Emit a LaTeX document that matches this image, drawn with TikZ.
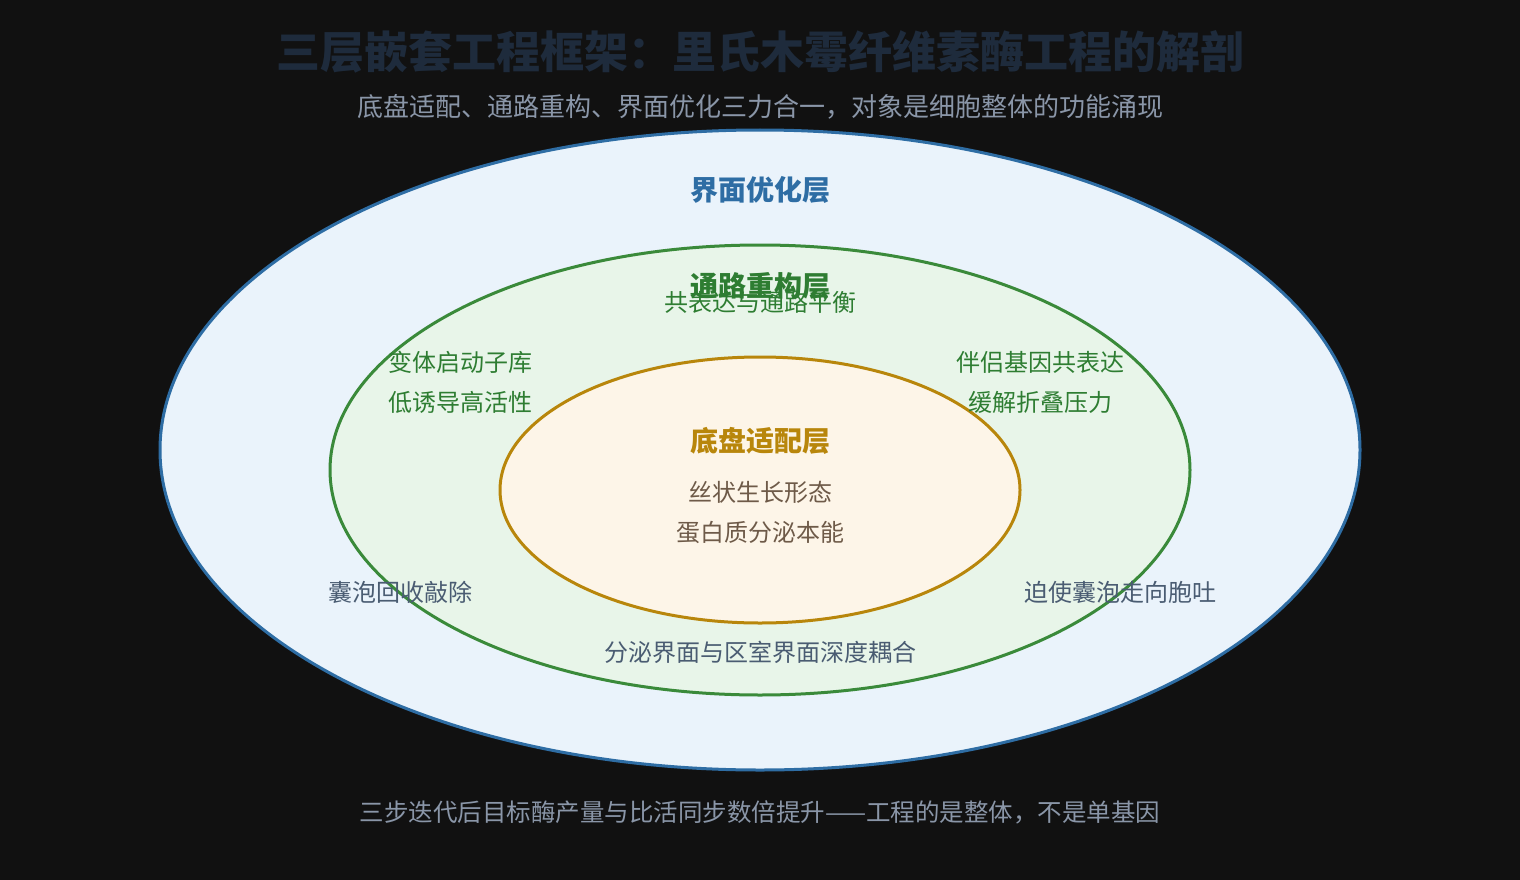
\documentclass[tikz,border=0pt]{standalone}
\usepackage{fontspec}
\usetikzlibrary{shapes.geometric}
\setmainfont{Noto Sans CJK SC}
\definecolor{bg}{HTML}{111111}
\definecolor{ttl}{HTML}{1E2B3C}
\definecolor{sub}{HTML}{8A96A8}
\definecolor{ofill}{HTML}{EAF3FB}\definecolor{oline}{HTML}{2E6DA4}
\definecolor{mfill}{HTML}{E8F5E9}\definecolor{mline}{HTML}{3A8A3A}
\definecolor{ifill}{HTML}{FDF5E8}\definecolor{iline}{HTML}{B8860B}
\definecolor{otxt}{HTML}{4A5C72}\definecolor{mtxt}{HTML}{2E7D32}\definecolor{itxt}{HTML}{6E5A48}
\begin{document}
\begin{tikzpicture}[x=1pt,y=-1pt,
  lbl/.style={font=\fontsize{24}{26}\selectfont,inner sep=0pt},
  head/.style={font=\fontsize{28}{30}\selectfont\bfseries,inner sep=0pt},
  ring/.style={ellipse,line width=3pt,inner sep=0pt}]
\fill[bg] (0,0) rectangle (1520,880);
\useasboundingbox (0,0) rectangle (1520,880);
\node[font=\fontsize{44}{48}\selectfont\bfseries,text=ttl] (title) at (760,52) {三层嵌套工程框架：里氏木霉纤维素酶工程的解剖};
\node[lbl,font=\fontsize{26}{28}\selectfont,text=sub] (subt) at (760,107) {底盘适配、通路重构、界面优化三力合一，对象是细胞整体的功能涌现};
\node[ring,draw=oline,fill=ofill,minimum width=1200,minimum height=640] (outer) at (760,450) {};
\node[ring,draw=mline,fill=mfill,minimum width=860,minimum height=450] (mid) at (760,470) {};
\node[ring,draw=iline,fill=ifill,minimum width=520,minimum height=266] (inner) at (760,490) {};
\node[head,text=oline] (oh) at (760,190) {界面优化层};
\node[head,text=mtxt] (mh) at (760,286) {通路重构层};
\node[head,text=iline] (ih) at (760,441) {底盘适配层};
\node[lbl,text=mtxt] at (760,302) {共表达与通路平衡};
\node[lbl,text=mtxt] at (460,362) {变体启动子库};
\node[lbl,text=mtxt] at (460,402) {低诱导高活性};
\node[lbl,text=mtxt] at (1040,362) {伴侣基因共表达};
\node[lbl,text=mtxt] at (1040,402) {缓解折叠压力};
\node[lbl,text=itxt] at (760,492) {丝状生长形态};
\node[lbl,text=itxt] at (760,532) {蛋白质分泌本能};
\node[lbl,text=otxt] at (400,592) {囊泡回收敲除};
\node[lbl,text=otxt] at (1120,592) {迫使囊泡走向胞吐};
\node[lbl,text=otxt] at (760,652) {分泌界面与区室界面深度耦合};
\node[lbl,font=\fontsize{24.5}{26}\selectfont,text=sub] (foot) at (760,812) {三步迭代后目标酶产量与比活同步数倍提升——工程的是整体，不是单基因};
\end{tikzpicture}
\end{document}
